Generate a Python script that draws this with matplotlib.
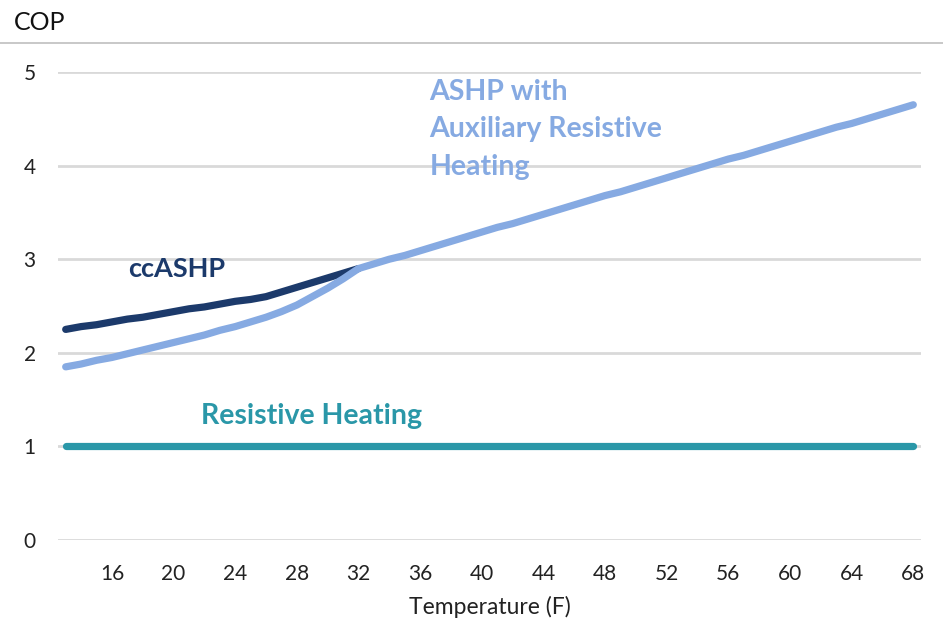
import matplotlib
matplotlib.use("Agg")
import matplotlib.pyplot as plt
from matplotlib.lines import Line2D

plt.rcParams['font.family'] = ['Lato', 'DejaVu Sans']

temps = list(range(13, 69))
ashp = [1.85, 1.88, 1.92, 1.95, 1.99, 2.03, 2.07, 2.11, 2.15, 2.19,
        2.24, 2.28, 2.33, 2.38, 2.44, 2.51, 2.60, 2.69, 2.79, 2.90,
        2.95, 3.00, 3.04, 3.09, 3.14, 3.19, 3.24, 3.29, 3.34, 3.38,
        3.43, 3.48, 3.53, 3.58, 3.63, 3.68, 3.72, 3.77, 3.82, 3.87,
        3.92, 3.97, 4.02, 4.07, 4.11, 4.16, 4.21, 4.26, 4.31, 4.36,
        4.41, 4.45, 4.50, 4.55, 4.60, 4.65]
cc_temps = list(range(13, 33))
ccashp = [2.25, 2.28, 2.30, 2.33, 2.36, 2.38, 2.41, 2.44, 2.47, 2.49,
          2.52, 2.55, 2.57, 2.60, 2.65, 2.70, 2.75, 2.80, 2.85, 2.90]
resistive = [1.0] * len(temps)
xticks = list(range(16, 69, 4))
yticks = [0, 1, 2, 3, 4, 5]

navy = '#1c3a6b'
light = '#86aae2'
teal = '#2a97a8'

fig = plt.figure(figsize=(9.43, 6.23), dpi=100)
ax = fig.add_axes([58/943, 1-540/623, (921-58)/943, (540-72)/623])

ax.plot(temps, resistive, color=teal, lw=5.2, solid_capstyle='round', zorder=3)
ax.plot(cc_temps, ccashp, color=navy, lw=5.2, solid_capstyle='round', zorder=3)
ax.plot(temps, ashp, color=light, lw=5.2, solid_capstyle='round', zorder=4)

ax.set_xlim(12.5, 68.5)
ax.set_ylim(0, 5)
ax.set_xticks(xticks)
ax.set_xticklabels([str(t) for t in xticks])
ax.set_yticks(yticks)
ax.grid(axis='y', color='#d9d9d9', lw=2)
ax.set_axisbelow(True)
for s in ax.spines.values():
    s.set_visible(False)
ax.tick_params(axis='both', length=0, labelsize=15, colors='#222222')
ax.tick_params(axis='x', pad=17)
ax.tick_params(axis='y', pad=16)
ax.set_xlabel('Temperature (F)', fontsize=16.5, color='#222222', labelpad=9)

ax.text(20.2, 2.9, 'ccASHP', color=navy, fontsize=19.5, fontweight='bold', ha='center', va='center')
ax.text(36.6, 4.93, 'ASHP with\nAuxiliary Resistive\nHeating', color=light, fontsize=20.5,
        fontweight='bold', ha='left', va='top', linespacing=1.55)
ax.text(28.95, 1.32, 'Resistive Heating', color=teal, fontsize=20.5, fontweight='bold',
        ha='center', va='center')

fig.text(14/943, 1-23/623, 'COP', fontsize=18, color='#111111', ha='left', va='center')
fig.add_artist(Line2D([0, 1], [1-43/623, 1-43/623], color='#bfbfbf', lw=1.2))

fig.savefig('out.png', dpi=100)
